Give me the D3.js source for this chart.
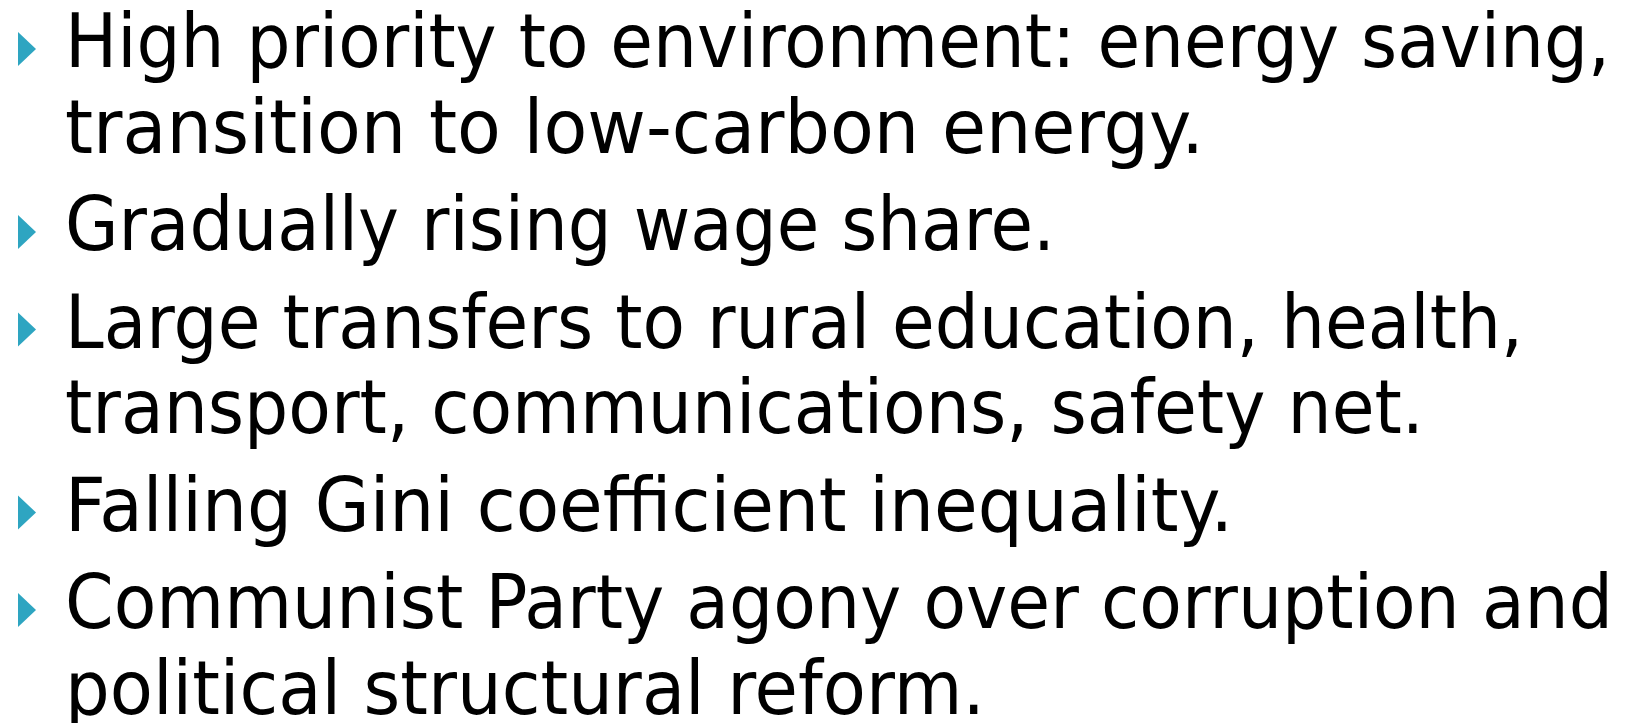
<!DOCTYPE html>
<html>

<head>
    <style>
        body {
            margin: 0;
            background: #fff;
        }

        text {
            font-family: "DejaVu Sans", "Lucida Sans", sans-serif;
        }
    </style>
    <script src="https://cdn.jsdelivr.net/npm/d3@7"></script>
    <title>Slide</title>
</head>

<body>
    <div id="chart"></div>

    <script>
        // Bullet points, each split into its wrapped lines
        const bullets = [
            ["High priority to environment: energy saving,", "transition to low-carbon energy."],
            ["Gradually rising wage share."],
            ["Large transfers to rural education, health,", "transport, communications, safety net."],
            ["Falling Gini coefficient inequality."],
            ["Communist Party agony over corruption and", "political structural reform."]
        ];

        // layout: right ink edge of each line in the slide (original font is narrower than DejaVu)
        const lineRight = [1604, 1198, 1049, 1517, 1418, 1227, 1607, 979];

        const width = 1627, height = 723;
        const fontSize = 74, lineStep = 85.5, paraGap = 12;
        const textX = 65, firstBaseline = 67;

        // flatten into lines with their line/paragraph index
        let lines = [];
        bullets.forEach((b, p) => b.forEach((t, k) => lines.push({ text: t, para: p, first: k === 0 })));
        lines.forEach((d, i) => d.index = i);

        const y = d3.scaleLinear()
            .domain([0, 1])
            .range([firstBaseline, firstBaseline + lineStep]);
        const baseline = d => y(d.index) + d.para * paraGap;

        const svg = d3.select("#chart").append("svg")
            .attr("width", width)
            .attr("height", height);

        // teal triangle markers
        svg.selectAll("path.marker")
            .data(lines.filter(d => d.first))
            .enter().append("path")
            .attr("class", "marker")
            .attr("fill", "#2ea5c1")
            .attr("d", d => {
                const b = baseline(d);
                return `M18,${b - 35}L36,${b - 18}L18,${b - 1}Z`;
            });

        svg.append("g").selectAll("text")
            .data(lines)
            .enter().append("text")
            .attr("x", textX)
            .attr("y", d => baseline(d))
            .attr("font-size", fontSize)
            .attr("fill", "#000")
            .attr("textLength", d => lineRight[d.index] + 6 - textX)
            .attr("lengthAdjust", "spacingAndGlyphs")
            .text(d => d.text);
    </script>
</body>

</html>
